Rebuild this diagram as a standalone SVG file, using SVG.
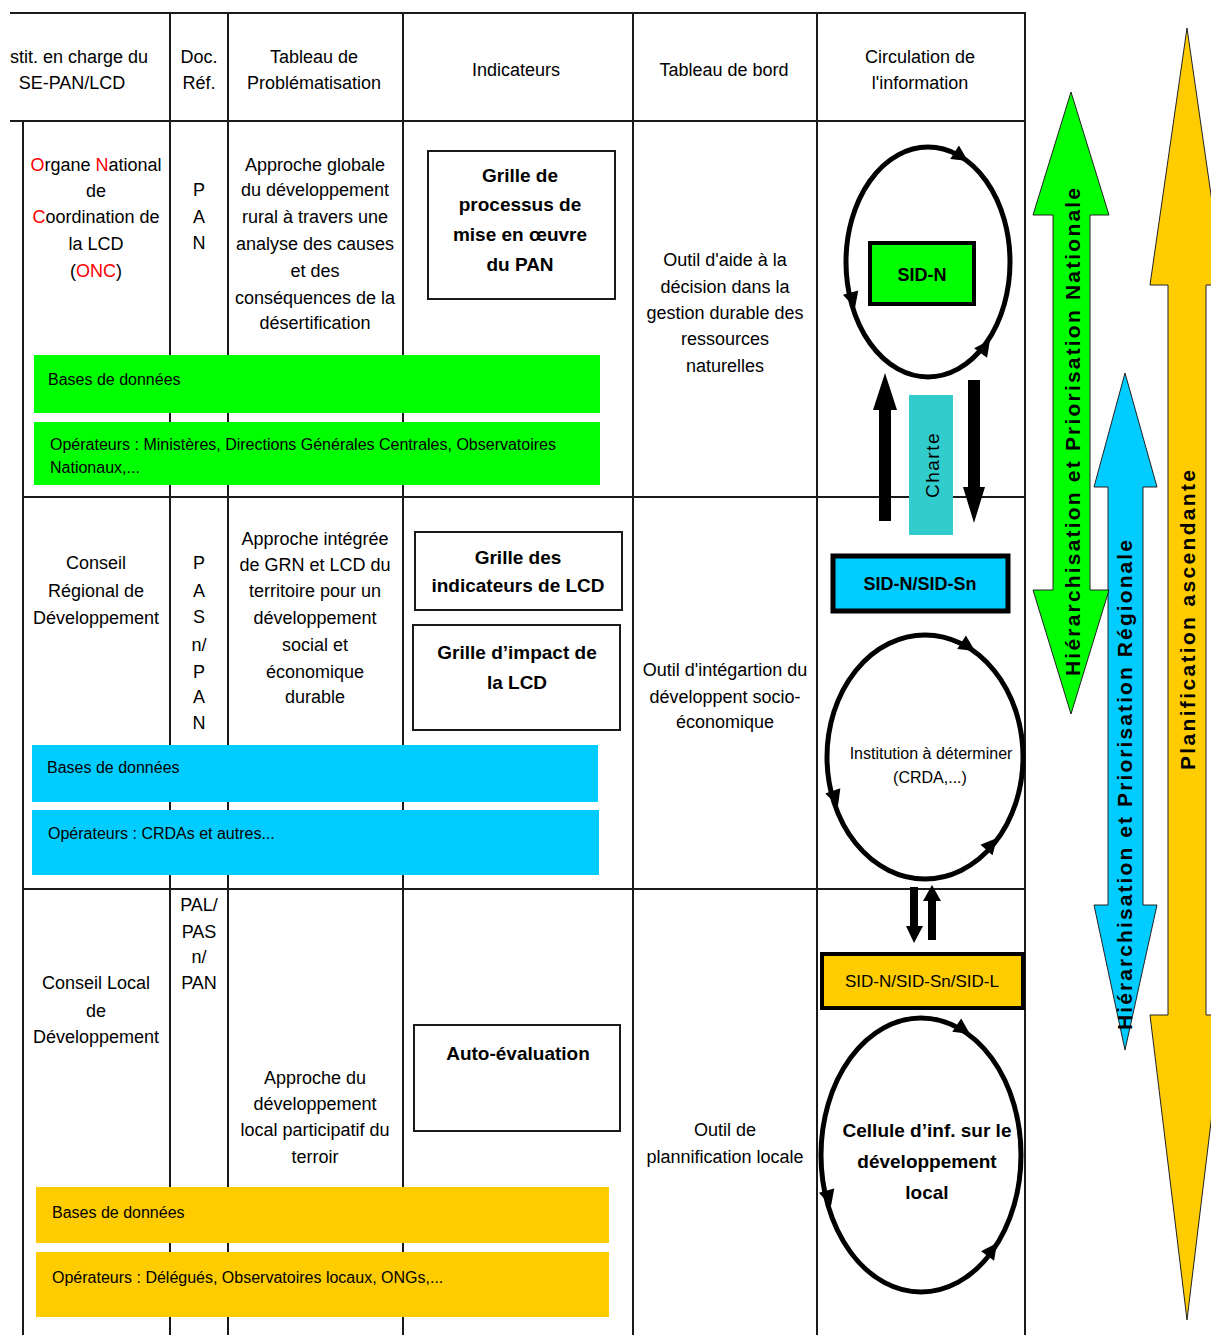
<svg xmlns="http://www.w3.org/2000/svg" width="1211" height="1335" viewBox="0 0 1211 1335">
<style>
.t{font-family:"Liberation Sans",Arial,sans-serif;font-size:18px;fill:#000;text-anchor:middle}
.s{font-family:"Liberation Sans",Arial,sans-serif;font-size:16px;fill:#000}
.b{font-family:"Liberation Sans",Arial,sans-serif;font-size:19px;font-weight:bold;fill:#000;text-anchor:middle}
.r{fill:#ff0000}
.grid line{stroke:#1a1a1a;stroke-width:2}
.box{fill:#fff;stroke:#1a1a1a;stroke-width:2}
.loop{fill:none;stroke:#000;stroke-width:5}
.ah{fill:#000}
.big{stroke:#222;stroke-width:1}
.vt{font-family:"Liberation Sans",Arial,sans-serif;font-size:21px;font-weight:bold;fill:#000;text-anchor:middle}
</style>
<rect width="1211" height="1335" fill="#fff"/>

<g id="grid" class="grid">
<line x1="10" y1="13" x2="1026" y2="13"/>
<line x1="10" y1="121" x2="1026" y2="121"/>
<line x1="23" y1="497" x2="1026" y2="497"/>
<line x1="23" y1="889" x2="1026" y2="889"/>
<line x1="23" y1="121" x2="23" y2="1335"/>
<line x1="170" y1="13" x2="170" y2="1335"/>
<line x1="228" y1="13" x2="228" y2="1335"/>
<line x1="403" y1="13" x2="403" y2="1335"/>
<line x1="633" y1="13" x2="633" y2="1335"/>
<line x1="817" y1="13" x2="817" y2="1335"/>
<line x1="1025" y1="13" x2="1025" y2="1335"/>
</g>

<g id="header">
<text class="t" x="10" y="63" style="text-anchor:start">stit. en charge du</text>
<text class="t" x="72" y="89">SE-PAN/LCD</text>
<text class="t" x="199" y="63">Doc.</text>
<text class="t" x="199" y="89">Réf.</text>
<text class="t" x="314" y="63">Tableau de</text>
<text class="t" x="314" y="89">Problématisation</text>
<text class="t" x="516" y="76">Indicateurs</text>
<text class="t" x="724" y="76">Tableau de bord</text>
<text class="t" x="920" y="63">Circulation de</text>
<text class="t" x="920" y="89">l'information</text>
</g>

<!-- Row 1 -->
<g id="row1-institution">
<text class="t" x="96" y="171"><tspan class="r">O</tspan>rgane <tspan class="r">N</tspan>ational</text>
<text class="t" x="96" y="197">de</text>
<text class="t" x="96" y="223"><tspan class="r">C</tspan>oordination de</text>
<text class="t" x="96" y="250">la LCD</text>
<text class="t" x="96" y="277">(<tspan class="r">ONC</tspan>)</text>
</g>
<g id="row1-doc">
<text class="t" x="199" y="196">P</text>
<text class="t" x="199" y="223">A</text>
<text class="t" x="199" y="249">N</text>
</g>
<g id="row1-approche">
<text class="t" x="315" y="171">Approche globale</text>
<text class="t" x="315" y="196">du développement</text>
<text class="t" x="315" y="223">rural à travers une</text>
<text class="t" x="315" y="250">analyse des causes</text>
<text class="t" x="315" y="277">et des</text>
<text class="t" x="315" y="304">conséquences de la</text>
<text class="t" x="315" y="329">désertification</text>
</g>
<g id="grille-processus">
<rect class="box" x="428" y="151" width="187" height="148"/>
<text class="b" x="520" y="182">Grille de</text>
<text class="b" x="520" y="211">processus de</text>
<text class="b" x="520" y="241">mise en œuvre</text>
<text class="b" x="520" y="271">du PAN</text>
</g>
<g id="row1-tableau">
<text class="t" x="725" y="266">Outil d'aide à la</text>
<text class="t" x="725" y="293">décision dans la</text>
<text class="t" x="725" y="319">gestion durable des</text>
<text class="t" x="725" y="345">ressources</text>
<text class="t" x="725" y="372">naturelles</text>
</g>
<g id="bdd-national">
<rect x="34" y="355" width="566" height="58" fill="#00ff00"/>
<text class="s" x="48" y="385">Bases de données</text>
</g>
<g id="operateurs-national">
<rect x="34" y="422" width="566" height="63" fill="#00ff00"/>
<text class="s" x="50" y="450">Opérateurs : Ministères, Directions Générales Centrales, Observatoires</text>
<text class="s" x="50" y="473">Nationaux,...</text>
</g>
<g id="loop-national">
<ellipse class="loop" cx="928" cy="262" rx="82" ry="115"/>
<polygon class="ah" points="0,0 -16,-8 -16,8" transform="translate(968,161) rotate(33)"/>
<polygon class="ah" points="0,0 -16,-8 -16,8" transform="translate(855,308) rotate(74)"/>
<polygon class="ah" points="0,0 -16,-8 -16,8" transform="translate(990,340) rotate(-54)"/>
</g>
<g id="sid-n">
<rect x="870" y="243" width="104" height="61" fill="#00ff00" stroke="#000" stroke-width="4"/>
<text class="b" x="922" y="281" style="font-size:18px">SID-N</text>
</g>
<g id="charte">
<rect x="909" y="395" width="44" height="140" fill="#33cccc"/>
<text class="t" transform="translate(939,465) rotate(-90)" style="font-size:19px;letter-spacing:1.5px">Charte</text>
</g>

<!-- Row 2 -->
<g id="row2-institution">
<text class="t" x="96" y="569">Conseil</text>
<text class="t" x="96" y="597">Régional de</text>
<text class="t" x="96" y="624">Développement</text>
</g>
<g id="row2-doc">
<text class="t" x="199" y="569">P</text>
<text class="t" x="199" y="597">A</text>
<text class="t" x="199" y="623">S</text>
<text class="t" x="199" y="651">n/</text>
<text class="t" x="199" y="678">P</text>
<text class="t" x="199" y="703">A</text>
<text class="t" x="199" y="729">N</text>
</g>
<g id="row2-approche">
<text class="t" x="315" y="545">Approche intégrée</text>
<text class="t" x="315" y="571">de GRN et LCD du</text>
<text class="t" x="315" y="597">territoire pour un</text>
<text class="t" x="315" y="624">développement</text>
<text class="t" x="315" y="651">social et</text>
<text class="t" x="315" y="678">économique</text>
<text class="t" x="315" y="703">durable</text>
</g>
<g id="grille-indicateurs">
<rect class="box" x="415" y="532" width="207" height="78"/>
<text class="b" x="518" y="564">Grille des</text>
<text class="b" x="518" y="592">indicateurs de LCD</text>
</g>
<g id="grille-impact">
<rect class="box" x="413" y="625" width="207" height="105"/>
<text class="b" x="517" y="659">Grille d’impact de</text>
<text class="b" x="517" y="689">la LCD</text>
</g>
<g id="row2-tableau">
<text class="t" x="725" y="676">Outil d'intégartion du</text>
<text class="t" x="725" y="703">développent socio-</text>
<text class="t" x="725" y="728">économique</text>
</g>
<g id="bdd-regional">
<rect x="32" y="745" width="566" height="57" fill="#00ccff"/>
<text class="s" x="47" y="773">Bases de données</text>
</g>
<g id="operateurs-regional">
<rect x="32" y="810" width="567" height="65" fill="#00ccff"/>
<text class="s" x="48" y="839">Opérateurs : CRDAs et autres...</text>
</g>
<g id="sid-n-sn">
<rect x="833" y="556" width="175" height="55" fill="#00ccff" stroke="#000" stroke-width="5"/>
<text class="b" x="920" y="590" style="font-size:18px">SID-N/SID-Sn</text>
</g>
<g id="loop-regional">
<ellipse class="loop" cx="925" cy="757" rx="98" ry="122"/>
<polygon class="ah" points="0,0 -16,-8 -16,8" transform="translate(975,651) rotate(33)"/>
<polygon class="ah" points="0,0 -16,-8 -16,8" transform="translate(838,806) rotate(71)"/>
<polygon class="ah" points="0,0 -16,-8 -16,8" transform="translate(997,838) rotate(-49)"/>
<text class="s" x="931" y="759" style="text-anchor:middle">Institution à déterminer</text>
<text class="s" x="930" y="783" style="text-anchor:middle">(CRDA,...)</text>
</g>

<!-- Row 3 -->
<g id="row3-institution">
<text class="t" x="96" y="989">Conseil Local</text>
<text class="t" x="96" y="1017">de</text>
<text class="t" x="96" y="1043">Développement</text>
</g>
<g id="row3-doc">
<text class="t" x="199" y="911">PAL/</text>
<text class="t" x="199" y="938">PAS</text>
<text class="t" x="199" y="963">n/</text>
<text class="t" x="199" y="989">PAN</text>
</g>
<g id="row3-approche">
<text class="t" x="315" y="1084">Approche du</text>
<text class="t" x="315" y="1110">développement</text>
<text class="t" x="315" y="1136">local participatif du</text>
<text class="t" x="315" y="1163">terroir</text>
</g>
<g id="auto-evaluation">
<rect class="box" x="414" y="1025" width="206" height="106"/>
<text class="b" x="518" y="1060">Auto-évaluation</text>
</g>
<g id="row3-tableau">
<text class="t" x="725" y="1136">Outil de</text>
<text class="t" x="725" y="1163">plannification locale</text>
</g>
<g id="bdd-local">
<rect x="36" y="1187" width="573" height="56" fill="#ffcc00"/>
<text class="s" x="52" y="1218">Bases de données</text>
</g>
<g id="operateurs-local">
<rect x="36" y="1252" width="573" height="65" fill="#ffcc00"/>
<text class="s" x="52" y="1283">Opérateurs : Délégués, Observatoires locaux, ONGs,...</text>
</g>
<g id="sid-n-sn-l">
<rect x="822" y="954" width="201" height="54" fill="#ffcc00" stroke="#000" stroke-width="4"/>
<text class="t" x="922" y="987" style="font-size:17px">SID-N/SID-Sn/SID-L</text>
</g>
<g id="loop-local">
<ellipse class="loop" cx="921" cy="1155" rx="100" ry="137"/>
<polygon class="ah" points="0,0 -16,-8 -16,8" transform="translate(970,1034) rotate(34)"/>
<polygon class="ah" points="0,0 -16,-8 -16,8" transform="translate(831,1206) rotate(74)"/>
<polygon class="ah" points="0,0 -16,-8 -16,8" transform="translate(997,1243) rotate(-54)"/>
<text class="b" x="927" y="1137">Cellule d’inf. sur le</text>
<text class="b" x="927" y="1168">développement</text>
<text class="b" x="927" y="1199">local</text>
</g>

<!-- Connectors -->
<g id="connectors">
<polygon fill="#000" points="885,373 897,410 891,410 891,521 879,521 879,410 873,410"/>
<polygon fill="#000" points="968,380 980,380 980,487 985,487 974,523 963,487 968,487"/>
<polygon fill="#000" points="910,887 918,887 918,926 923,926 914,943 906,926 910,926"/>
<polygon fill="#000" points="932,885 941,901 936,901 936,940 928,940 928,901 923,901"/>
</g>

<!-- Big side arrows -->
<g id="arrow-planification">
<polygon class="big" fill="#ffcc00" points="1187,28 1224,285 1206,285 1206,1015 1224,1015 1187,1320 1150,1015 1168,1015 1168,285 1150,285"/>
<text class="vt" transform="translate(1195,620) rotate(-90)" textLength="300" lengthAdjust="spacing">Planification ascendante</text>
</g>
<g id="arrow-regionale">
<polygon class="big" fill="#00ccff" points="1125,373 1157,487 1143,487 1143,905 1157,905 1125,1050 1094,905 1108,905 1108,487 1094,487"/>
<text class="vt" transform="translate(1132,785) rotate(-90)" textLength="490" lengthAdjust="spacing">Hiérarchisation et Priorisation Régionale</text>
</g>
<g id="arrow-nationale">
<polygon class="big" fill="#00ff00" points="1071,92 1109,215 1090,215 1090,590 1109,590 1071,714 1033,590 1053,590 1053,215 1033,215"/>
<text class="vt" transform="translate(1080,432) rotate(-90)" textLength="488" lengthAdjust="spacing">Hiérarchisation et Priorisation Nationale</text>
</g>
</svg>
